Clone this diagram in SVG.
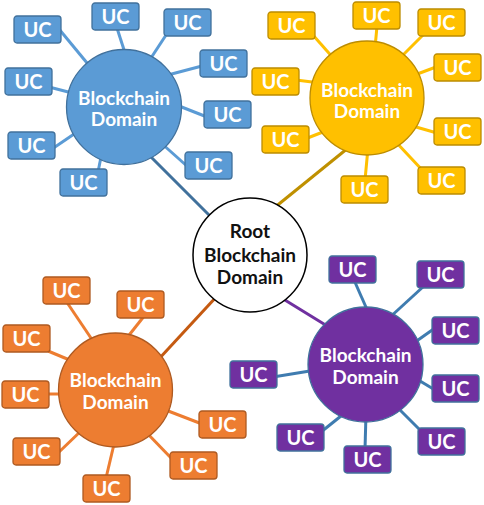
<svg xmlns="http://www.w3.org/2000/svg" width="484" height="505" viewBox="0 0 484 505">
<style>
text{font-family:Lato,"Open Sans","Liberation Sans",sans-serif;font-weight:700;text-anchor:middle}
.uc{font-size:20px;fill:#fff}
.dl{font-size:19px;fill:#fff}
.rt{font-size:19px;fill:#111}
.b use,.b circle{fill:#5b9bd5;stroke:#41719c;stroke-width:1.3}
.y use,.y circle{fill:#ffc000;stroke:#bc8c00;stroke-width:1.3}
.o use,.o circle{fill:#ed7d31;stroke:#ae5a21;stroke-width:1.3}
.p use,.p circle{fill:#7030a0;stroke:#41719c;stroke-width:1.3}
#connectors line{stroke-width:3;stroke-linecap:butt}
.cb{stroke:#5b9bd5}.cy{stroke:#ffc000}.co{stroke:#ed7d31}.cp{stroke:#3f7cb0}
</style>
<defs>
<rect id="box" width="47" height="27" rx="3"/>
</defs>
<rect width="484" height="505" fill="#fff"/>
<g id="connectors">
<g class="cb">
<line x1="59" y1="29" x2="92" y2="69"/>
<line x1="116" y1="25" x2="126" y2="56"/>
<line x1="168" y1="32" x2="149" y2="61"/>
<line x1="202" y1="66" x2="164" y2="76"/>
<line x1="207" y1="117" x2="174" y2="104"/>
<line x1="188" y1="167" x2="160" y2="142"/>
<line x1="98" y1="172" x2="102" y2="152"/>
<line x1="52" y1="149" x2="80" y2="130"/>
<line x1="49" y1="87" x2="76" y2="94"/>
</g>
<line x1="147" y1="153" x2="212" y2="218" stroke="#41719c"/>
<g class="cy">
<line x1="312" y1="34" x2="335" y2="60"/>
<line x1="377" y1="26" x2="375" y2="48"/>
<line x1="424" y1="34" x2="399" y2="59"/>
<line x1="436" y1="67" x2="412" y2="76"/>
<line x1="296" y1="80" x2="320" y2="83"/>
<line x1="305" y1="139" x2="328" y2="130"/>
<line x1="437" y1="133" x2="409" y2="125"/>
<line x1="424" y1="172" x2="395" y2="141"/>
<line x1="365" y1="180" x2="368" y2="148"/>
</g>
<line x1="348" y1="148" x2="274" y2="208" stroke="#bf9000"/>
<g class="co">
<line x1="66" y1="301" x2="95" y2="344"/>
<line x1="145" y1="315" x2="126" y2="339"/>
<line x1="48" y1="351" x2="72" y2="361"/>
<line x1="46" y1="394" x2="66" y2="394"/>
<line x1="58" y1="453" x2="83" y2="429"/>
<line x1="106" y1="478" x2="115" y2="440"/>
<line x1="173" y1="460" x2="145" y2="431"/>
<line x1="202" y1="424" x2="163" y2="409"/>
</g>
<line x1="157" y1="361" x2="218" y2="295" stroke="#c55a11"/>
<g class="cp">
<line x1="354" y1="280" x2="369" y2="314"/>
<line x1="424" y1="286" x2="388" y2="319"/>
<line x1="435" y1="328" x2="411" y2="345"/>
<line x1="435" y1="390" x2="415" y2="378"/>
<line x1="424" y1="434" x2="395" y2="405"/>
<line x1="365" y1="449" x2="366" y2="414"/>
<line x1="321" y1="432" x2="346" y2="412"/>
<line x1="273" y1="377" x2="316" y2="370"/>
</g>
<line x1="280" y1="297" x2="332" y2="329" stroke="#7030a0"/>
</g>

<g id="root">
<circle cx="250" cy="255" r="57" fill="#fff" stroke="#000" stroke-width="1.5"/>
<text class="rt" x="250" y="238">Root</text>
<text class="rt" x="250" y="261.5">Blockchain</text>
<text class="rt" x="250" y="283.5">Domain</text>
</g>

<g id="blue" class="b">
<g id="blue-domain"><circle cx="124" cy="107" r="57.5"/>
<text class="dl" x="124" y="105">Blockchain</text><text class="dl" x="124" y="126">Domain</text></g>
<g id="b1"><use href="#box" x="14" y="16"/><text class="uc" x="37.5" y="37">UC</text></g>
<g id="b2"><use href="#box" x="92" y="3"/><text class="uc" x="115.5" y="24">UC</text></g>
<g id="b3"><use href="#box" x="164" y="9"/><text class="uc" x="187.5" y="30">UC</text></g>
<g id="b4"><use href="#box" x="200" y="50"/><text class="uc" x="223.5" y="71">UC</text></g>
<g id="b5"><use href="#box" x="204" y="101"/><text class="uc" x="227.5" y="122">UC</text></g>
<g id="b6"><use href="#box" x="185" y="152"/><text class="uc" x="208.5" y="173">UC</text></g>
<g id="b7"><use href="#box" x="60" y="169"/><text class="uc" x="83.5" y="190">UC</text></g>
<g id="b8"><use href="#box" x="8" y="132"/><text class="uc" x="31.5" y="153">UC</text></g>
<g id="b9"><use href="#box" x="5" y="68"/><text class="uc" x="28.5" y="89">UC</text></g>
</g>

<g id="yellow" class="y">
<g id="yellow-domain"><circle cx="367" cy="98" r="57"/>
<text class="dl" x="367" y="96.5">Blockchain</text><text class="dl" x="367" y="118">Domain</text></g>
<g id="y1"><use href="#box" x="268" y="12"/><text class="uc" x="291.5" y="33">UC</text></g>
<g id="y2"><use href="#box" x="353" y="2"/><text class="uc" x="376.5" y="23">UC</text></g>
<g id="y3"><use href="#box" x="418" y="9"/><text class="uc" x="441.5" y="30">UC</text></g>
<g id="y4"><use href="#box" x="434" y="54"/><text class="uc" x="457.5" y="75">UC</text></g>
<g id="y5"><use href="#box" x="252" y="68"/><text class="uc" x="275.5" y="89">UC</text></g>
<g id="y6"><use href="#box" x="262" y="126"/><text class="uc" x="285.5" y="147">UC</text></g>
<g id="y7"><use href="#box" x="434" y="118"/><text class="uc" x="457.5" y="139">UC</text></g>
<g id="y8"><use href="#box" x="418" y="167"/><text class="uc" x="441.5" y="188">UC</text></g>
<g id="y9"><use href="#box" x="341" y="176"/><text class="uc" x="364.5" y="197">UC</text></g>
</g>

<g id="orange" class="o">
<g id="orange-domain"><circle cx="115.5" cy="390" r="57"/>
<text class="dl" x="115.5" y="387">Blockchain</text><text class="dl" x="115.5" y="409">Domain</text></g>
<g id="o1"><use href="#box" x="43" y="277"/><text class="uc" x="66.5" y="298">UC</text></g>
<g id="o2"><use href="#box" x="117" y="291"/><text class="uc" x="140.5" y="312">UC</text></g>
<g id="o3"><use href="#box" x="3" y="325"/><text class="uc" x="26.5" y="346">UC</text></g>
<g id="o4"><use href="#box" x="2" y="381"/><text class="uc" x="25.5" y="402">UC</text></g>
<g id="o5"><use href="#box" x="13" y="438"/><text class="uc" x="36.5" y="459">UC</text></g>
<g id="o6"><use href="#box" x="83" y="475"/><text class="uc" x="106.5" y="496">UC</text></g>
<g id="o7"><use href="#box" x="170" y="452"/><text class="uc" x="193.5" y="473">UC</text></g>
<g id="o8"><use href="#box" x="199" y="411"/><text class="uc" x="222.5" y="432">UC</text></g>
</g>

<g id="purple" class="p">
<g id="purple-domain"><circle cx="365.5" cy="364.5" r="57.5"/>
<text class="dl" x="365.5" y="362">Blockchain</text><text class="dl" x="365.5" y="384">Domain</text></g>
<g id="p1"><use href="#box" x="329" y="256"/><text class="uc" x="352.5" y="277">UC</text></g>
<g id="p2"><use href="#box" x="417" y="261"/><text class="uc" x="440.5" y="282">UC</text></g>
<g id="p3"><use href="#box" x="432" y="317"/><text class="uc" x="455.5" y="338">UC</text></g>
<g id="p4"><use href="#box" x="432" y="375"/><text class="uc" x="455.5" y="396">UC</text></g>
<g id="p5"><use href="#box" x="418" y="428"/><text class="uc" x="441.5" y="449">UC</text></g>
<g id="p6"><use href="#box" x="344" y="446"/><text class="uc" x="367.5" y="467">UC</text></g>
<g id="p7"><use href="#box" x="277" y="424"/><text class="uc" x="300.5" y="445">UC</text></g>
<g id="p8"><use href="#box" x="230" y="361"/><text class="uc" x="253.5" y="382">UC</text></g>
</g>
</svg>
